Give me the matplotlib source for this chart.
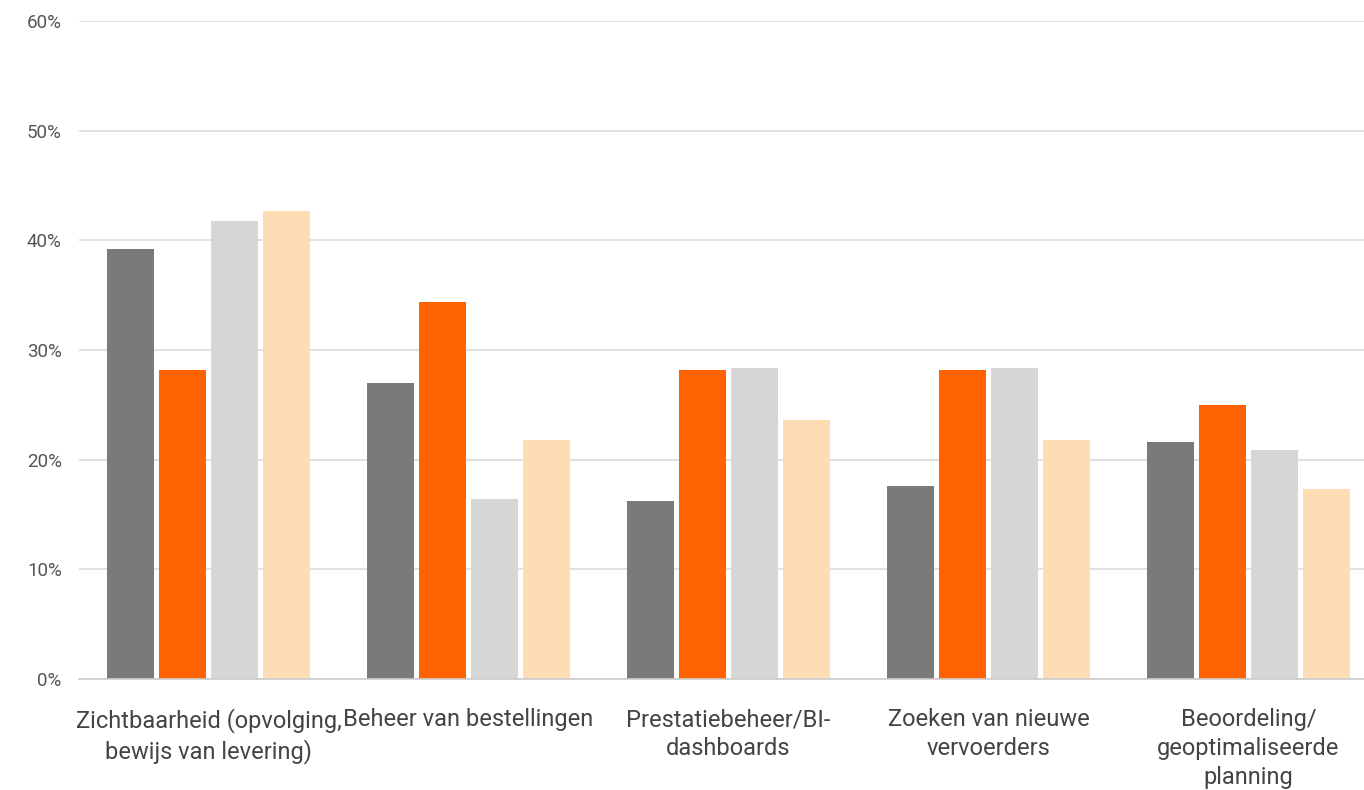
import matplotlib
matplotlib.use("Agg")
import matplotlib.pyplot as plt
import numpy as np

categories = ["Zichtbaarheid (opvolging,\nbewijs van levering)",
              "Beheer van bestellingen",
              "Prestatiebeheer/BI-\ndashboards",
              "Zoeken van nieuwe\nvervoerders",
              "Beoordeling/\ngeoptimaliseerde\nplanning"]
series1 = [39.2, 27.0, 16.2, 17.6, 21.6]
series2 = [28.2, 34.4, 28.2, 28.2, 25.0]
series3 = [41.8, 16.4, 28.4, 28.4, 20.9]
series4 = [42.7, 21.8, 23.6, 21.8, 17.3]
colors = ["#7a7a7a", "#ff6200", "#d6d6d6", "#fedcb4"]
yticks = [0, 10, 20, 30, 40, 50, 60]

W, H = 1364, 790
fig = plt.figure(figsize=(W/100, H/100), dpi=100)
ax = fig.add_axes([78.5/W, (H-679)/H, 1300/W, (679-21)/H])

x = np.arange(len(categories))
slot = 0.2
for i, s in enumerate([series1, series2, series3, series4]):
    ax.bar(x - 0.3 + i*slot, s, width=slot*0.91, color=colors[i],
           linewidth=0, zorder=3)

ax.set_xlim(-0.5, len(categories)-0.5)
ax.set_ylim(0, 60)
ax.set_yticks(yticks)
ax.set_yticklabels([f"{v}%" for v in yticks], fontfamily="Roboto", fontsize=13.5, color="#555555")
ax.tick_params(axis="y", length=0, pad=12)
ax.grid(axis="y", color="#dcdcdc", linewidth=1.2, zorder=0)
ax.set_xticks(x)
ax.set_xticklabels(categories, fontfamily="Roboto", fontsize=17, color="#444444", linespacing=1.33)
ax.tick_params(axis="x", length=0, pad=21)
for sp in ["top", "right", "left"]:
    ax.spines[sp].set_visible(False)
ax.spines["bottom"].set_color("#cccccc")
ax.spines["bottom"].set_linewidth(1.2)
ax.spines["bottom"].set_zorder(4)

fig.savefig("out.png", dpi=100)
